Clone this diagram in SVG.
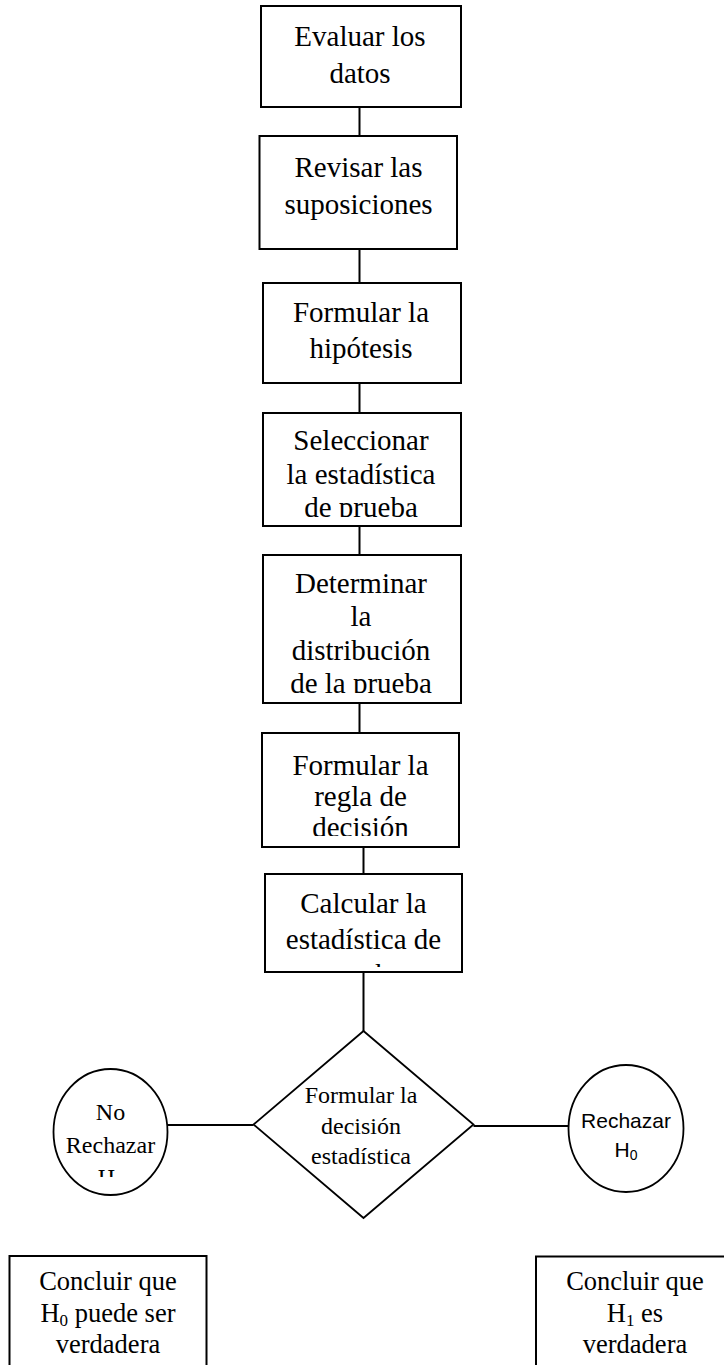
<svg xmlns="http://www.w3.org/2000/svg" width="724" height="1365" viewBox="0 0 724 1365">
  <style>
    .box { fill: #ffffff; stroke: #000000; stroke-width: 2; }
    .shape { fill: #ffffff; stroke: #000000; stroke-width: 1.8; }
    .link { stroke: #000000; stroke-width: 2; fill: none; }
    .t { font-family: "Liberation Serif", "Times New Roman", serif; font-size: 29px; fill: #000000; text-anchor: middle; }
    .ts { font-family: "Liberation Serif", "Times New Roman", serif; font-size: 24px; fill: #000000; text-anchor: middle; }
    .tb { font-family: "Liberation Serif", "Times New Roman", serif; font-size: 26.5px; fill: #000000; text-anchor: middle; }
    .sans { font-family: "Liberation Sans", Arial, sans-serif; font-size: 21px; fill: #000000; text-anchor: middle; }
  </style>
  <defs>
    <clipPath id="clip-seleccionar"><rect x="263" y="413" width="198" height="104"/></clipPath>
    <clipPath id="clip-determinar"><rect x="263" y="555" width="198" height="138"/></clipPath>
    <clipPath id="clip-regla"><rect x="262" y="733" width="197" height="103"/></clipPath>
    <clipPath id="clip-calcular"><rect x="265" y="874" width="197" height="93"/></clipPath>
    <clipPath id="clip-no-rechazar"><rect x="53" y="1069" width="115" height="108"/></clipPath>
  </defs>

  <!-- connectors -->
  <g id="connectors">
    <line class="link" x1="359.5" y1="107" x2="359.5" y2="136"/>
    <line class="link" x1="359.5" y1="249" x2="359.5" y2="283"/>
    <line class="link" x1="359.5" y1="383" x2="359.5" y2="413"/>
    <line class="link" x1="359.5" y1="526" x2="359.5" y2="555"/>
    <line class="link" x1="359.5" y1="703" x2="359.5" y2="733"/>
    <line class="link" x1="363.5" y1="847" x2="363.5" y2="874"/>
    <line class="link" x1="363.5" y1="972" x2="363.5" y2="1031"/>
    <line class="link" x1="167" y1="1125" x2="253.5" y2="1125"/>
    <line class="link" x1="473.5" y1="1126" x2="568.5" y2="1126"/>
  </g>

  <!-- process boxes -->
  <g id="evaluar">
    <rect class="box" x="261" y="6" width="200" height="101"/>
    <text class="t" x="360" y="46">Evaluar los</text>
    <text class="t" x="360" y="83">datos</text>
  </g>

  <g id="revisar">
    <rect class="box" x="259.5" y="136" width="197.5" height="113"/>
    <text class="t" x="358.5" y="177">Revisar las</text>
    <text class="t" x="358.5" y="213.5">suposiciones</text>
  </g>

  <g id="formular-hipotesis">
    <rect class="box" x="263" y="283" width="198" height="100"/>
    <text class="t" x="361" y="321.5">Formular la</text>
    <text class="t" x="361" y="358">hipótesis</text>
  </g>

  <g id="seleccionar">
    <rect class="box" x="263" y="413" width="198" height="113"/>
    <g clip-path="url(#clip-seleccionar)">
      <text class="t" x="361" y="450">Seleccionar</text>
      <text class="t" x="361" y="483.5">la estadística</text>
      <text class="t" x="361" y="517">de prueba</text>
    </g>
  </g>

  <g id="determinar">
    <rect class="box" x="263" y="555" width="198" height="148"/>
    <g clip-path="url(#clip-determinar)">
      <text class="t" x="361" y="592.5">Determinar</text>
      <text class="t" x="361" y="626">la</text>
      <text class="t" x="361" y="659.5">distribución</text>
      <text class="t" x="361" y="693">de la prueba</text>
    </g>
  </g>

  <g id="formular-regla">
    <rect class="box" x="262" y="733" width="197" height="114"/>
    <g clip-path="url(#clip-regla)">
      <text class="t" x="360.5" y="774.5">Formular la</text>
      <text class="t" x="360.5" y="806">regla de</text>
      <text class="t" x="360.5" y="837">decisión</text>
    </g>
  </g>

  <g id="calcular">
    <rect class="box" x="265" y="874" width="197" height="98"/>
    <g clip-path="url(#clip-calcular)">
      <text class="t" x="363.5" y="912.5">Calcular la</text>
      <text class="t" x="363.5" y="949">estadística de</text>
      <text class="t" x="363.5" y="983.5">prueba</text>
    </g>
  </g>

  <!-- decision -->
  <g id="decision">
    <polygon class="shape" points="363.5,1031 473.5,1124.5 363.5,1218 253.5,1124.5"/>
    <text class="ts" x="361" y="1103">Formular la</text>
    <text class="ts" x="361" y="1134">decisión</text>
    <text class="ts" x="361" y="1164">estadística</text>
  </g>

  <!-- outcomes -->
  <g id="no-rechazar">
    <ellipse class="shape" cx="110.5" cy="1132" rx="57" ry="63"/>
    <g clip-path="url(#clip-no-rechazar)">
      <text class="ts" x="110.5" y="1120">No</text>
      <text class="ts" x="110.5" y="1152.5">Rechazar</text>
      <text class="ts" x="110.5" y="1185">H<tspan font-size="16" dy="4">0</tspan></text>
    </g>
  </g>

  <g id="rechazar">
    <ellipse class="shape" cx="626" cy="1128.5" rx="57.5" ry="63.5"/>
    <text class="sans" x="626" y="1128">Rechazar</text>
    <text class="sans" x="626" y="1157">H<tspan font-size="14" dy="3">0</tspan></text>
  </g>

  <!-- conclusions -->
  <g id="concluir-h0">
    <rect class="box" x="9.5" y="1256" width="197" height="130"/>
    <text class="tb" x="108" y="1290">Concluir que</text>
    <text class="tb" x="108" y="1321.5">H<tspan font-size="17" dy="4">0</tspan><tspan dy="-4"> puede ser</tspan></text>
    <text class="tb" x="108" y="1352.5">verdadera</text>
  </g>

  <g id="concluir-h1">
    <rect class="box" x="536" y="1256.5" width="197" height="130"/>
    <text class="tb" x="635" y="1290">Concluir que</text>
    <text class="tb" x="635" y="1321.5">H<tspan font-size="17" dy="4">1</tspan><tspan dy="-4"> es</tspan></text>
    <text class="tb" x="635" y="1352.5">verdadera</text>
  </g>
</svg>
